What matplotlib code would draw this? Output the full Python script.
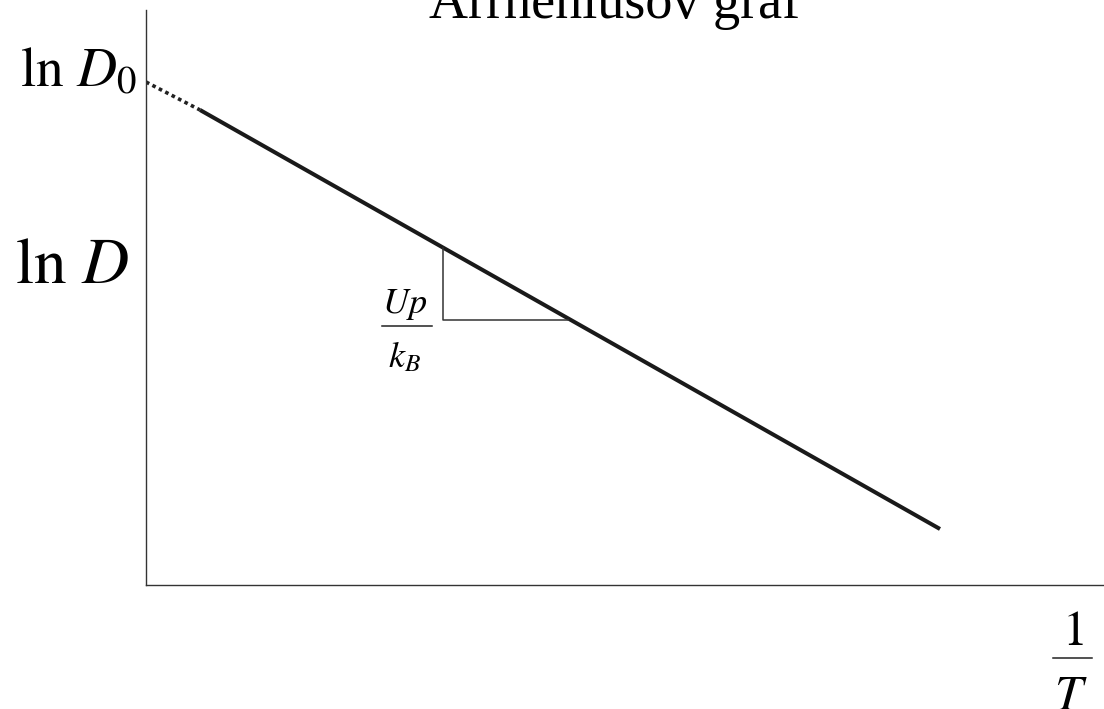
import matplotlib
matplotlib.use("Agg")
import matplotlib.pyplot as plt
from matplotlib.lines import Line2D

plt.rcParams['mathtext.fontset'] = 'stix'
plt.rcParams['font.family'] = ['Liberation Serif', 'DejaVu Serif']

# Data (arbitrary units: x = 1/T, y = ln D)
x_extrap = [0.0, 0.564]
y_extrap = [8.748, 8.261]
x_line = [0.564, 8.288]
y_line = [8.261, 0.974]
tri_x = [3.100, 3.100, 4.405]
tri_y = [5.861, 4.609, 4.609]

W, H = 1104, 709
fig = plt.figure(figsize=(W / 100, H / 100), dpi=100)
ax = fig.add_axes([146/W, 124/H, 958/W, 575/H])
ax.set_xlim(0, 10)
ax.set_ylim(0, 10)
for s in ['top', 'right']:
    ax.spines[s].set_visible(False)
for s in ['left', 'bottom']:
    ax.spines[s].set_color('#333333')
    ax.spines[s].set_linewidth(1.0)
ax.set_xticks([])
ax.set_yticks([])

ax.plot(x_extrap, y_extrap, color='#222222', lw=2.6, linestyle=(0, (1, 1)), solid_capstyle='butt')
ax.plot(x_line, y_line, color='#1a1a1a', lw=2.9, solid_capstyle='butt')
ax.plot(tri_x, tri_y, color='#333333', lw=1.1)


def fx(px):
    return px / W


def fy(py):
    return 1 - py / H


fig.text(fx(615), fy(18), 'Arrheniusov graf', ha='center', va='baseline', fontsize=39)
fig.text(fx(79), fy(86), r'$\ln\,D_0$', ha='center', va='baseline', fontsize=40)
fig.text(fx(72), fy(283), r'$\ln\,D$', ha='center', va='baseline', fontsize=47)

# Up / k_B fraction
fig.text(fx(405), fy(313), r'$Up$', ha='center', va='baseline', fontsize=26)
fig.add_artist(Line2D([fx(382), fx(432)], [fy(326), fy(326)], color='#222222', lw=1.1))
fig.text(fx(404), fy(367), r'$k_B$', ha='center', va='baseline', fontsize=26)

# 1 / T fraction
fig.text(fx(1073), fy(645), r'$1$', ha='center', va='baseline', fontsize=36)
fig.add_artist(Line2D([fx(1053), fx(1092)], [fy(658), fy(658)], color='#222222', lw=1.1))
fig.text(fx(1071), fy(710), r'$T$', ha='center', va='baseline', fontsize=36)

fig.savefig('out.png', dpi=100)
